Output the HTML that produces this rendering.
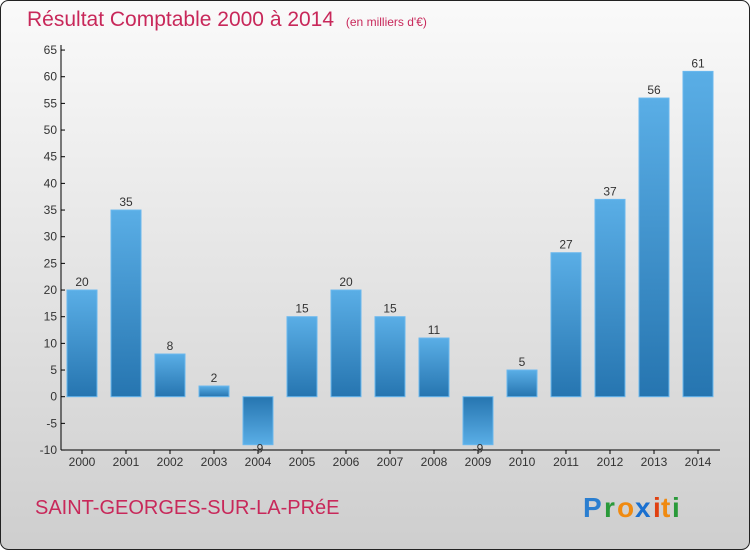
<!DOCTYPE html>
<html><head><meta charset="utf-8"><style>
body{margin:0;width:750px;height:550px;overflow:hidden;font-family:"Liberation Sans","DejaVu Sans",sans-serif}
</style></head><body>
<svg width="750" height="550" viewBox="0 0 750 550" xmlns="http://www.w3.org/2000/svg">
<defs>
<linearGradient id="bg" x1="0" y1="0" x2="0" y2="1"><stop offset="0" stop-color="#fafafa"/><stop offset="1" stop-color="#cecece"/></linearGradient>
<linearGradient id="pos" x1="0" y1="0" x2="0" y2="1"><stop offset="0" stop-color="#5aaee6"/><stop offset="1" stop-color="#2675b0"/></linearGradient>
<linearGradient id="neg" x1="0" y1="0" x2="0" y2="1"><stop offset="0" stop-color="#2675b0"/><stop offset="1" stop-color="#5aaee6"/></linearGradient>
</defs>
<rect x="0.5" y="0.5" width="749" height="549" rx="8" fill="url(#bg)" stroke="#222"/>
<text x="27" y="26" font-size="21" fill="#c8285a">Résultat Comptable 2000 à 2014 <tspan font-size="12" dx="6">(en milliers d'€)</tspan></text>
<g id="axes"></g>
<g id="bars"></g>
<text x="35" y="514" font-size="20" fill="#c8285a">SAINT-GEORGES-SUR-LA-PRéE</text>
<g font-size="28" font-weight="bold">
<text x="583" y="517" fill="#2a7ed0">P</text><text x="604" y="517" fill="#2a9a3a">r</text><text x="617" y="517" fill="#f08a10">o</text><text x="635" y="517" fill="#1a70d0">x</text><text x="653" y="517" fill="#e04010">i</text><text x="661" y="517" fill="#f08a10">t</text><text x="672" y="517" fill="#2a9a3a">i</text>
</g>
</svg>
<script>
const years=["2000","2001","2002","2003","2004","2005","2006","2007","2008","2009","2010","2011","2012","2013","2014"];
const values=[20,35,8,2,-9,15,20,15,11,-9,5,27,37,56,61];
const yTicks=[-10,-5,0,5,10,15,20,25,30,35,40,45,50,55,60,65];
const NS="http://www.w3.org/2000/svg";
const y=v=>396.7-v*5.333;
const x=i=>82+i*44;
const ax=document.getElementById('axes'),bg=document.getElementById('bars');
function mk(t,a,p){const e=document.createElementNS(NS,t);for(const k in a)e.setAttribute(k,a[k]);p.appendChild(e);return e;}
const yl=mk('line',{x1:61,y1:45,x2:61,y2:450,stroke:'#000'},ax);


const xl=mk('line',{x1:61,y1:450,x2:720,y2:450,stroke:'#000'},ax);


yTicks.forEach(v=>{
  mk('line',{x1:61,y1:y(v),x2:65,y2:y(v),stroke:'#000'},ax);
  const t=mk('text',{x:57,y:y(v)+4,'font-size':12,'text-anchor':'end',fill:'#333'},ax);
  t.textContent=v;
  
  
});
years.forEach((yr,i)=>{
  mk('line',{x1:x(i),y1:450,x2:x(i),y2:454,stroke:'#000'},ax);
  const t=mk('text',{x:x(i),y:466,'font-size':12,'text-anchor':'middle',fill:'#333'},ax);
  t.textContent=yr;
  
  
  const v=values[i],top=Math.min(y(v),y(0)),h=Math.abs(y(v)-y(0));
  const r=mk('rect',{x:x(i)-15,y:top,width:30,height:h,fill:v>=0?'url(#pos)':'url(#neg)',stroke:'#6ab8ee','stroke-width':1},bg);
  
  
  const l=mk('text',{x:x(i),y:v>=0?y(v)-4:y(v)+8,'font-size':12,'text-anchor':'middle',fill:'#333'},bg);
  l.textContent=v;
  
  
});
</script>
</body></html>
